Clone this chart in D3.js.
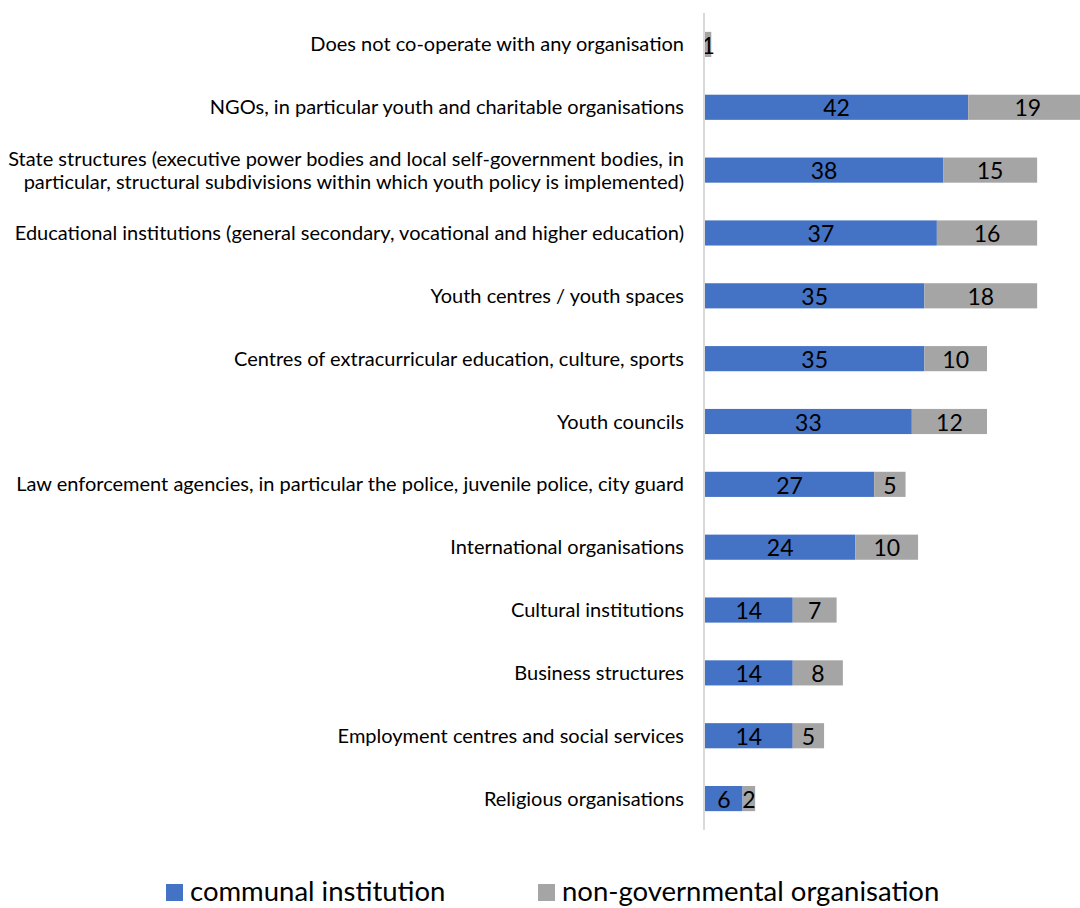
<!DOCTYPE html>
<html>
<head>
<meta charset="utf-8">
<script src="https://cdn.jsdelivr.net/npm/d3@7"></script>
<style>
  html, body { margin: 0; padding: 0; background: #fff; }
  svg { display: block; font-family: Lato, "Open Sans", sans-serif; }
</style>
</head>
<body>
<svg id="chart" width="1080" height="908"></svg>
<script>
// Partners of youth work, by type of organisation
const categories = [
  ["Does not co-operate with any organisation"],
  ["NGOs, in particular youth and charitable organisations"],
  ["State structures (executive power bodies and local self-government bodies, in",
   "particular, structural subdivisions within which youth policy is implemented)"],
  ["Educational institutions (general secondary, vocational and higher education)"],
  ["Youth centres / youth spaces"],
  ["Centres of extracurricular education, culture, sports"],
  ["Youth councils"],
  ["Law enforcement agencies, in particular the police, juvenile police, city guard"],
  ["International organisations"],
  ["Cultural institutions"],
  ["Business structures"],
  ["Employment centres and social services"],
  ["Religious organisations"]
];
const communal = [0, 42, 38, 37, 35, 35, 33, 27, 24, 14, 14, 14, 6];
const nonGov   = [1, 19, 15, 16, 18, 10, 12, 5, 10, 7, 8, 5, 2];
const seriesNames = ["communal institution", "non-governmental organisation"];
const colors = ["#4472C4", "#A5A5A5"];

const svg = d3.select("#chart");

const rows = categories.map((c, i) => ({ idx: i, lines: c, vals: [communal[i], nonGov[i]] }));

const y = d3.scaleBand()
  .domain(rows.map(r => r.idx))
  .range([13, 830])
  .paddingInner(0.6)
  .paddingOuter(0.3);

const x = d3.scaleLinear().domain([0, 60]).range([705, 1081]);

// stacked segments
const stack = d3.stack().keys([0, 1]).value((d, k) => d.vals[k]);
const layers = stack(rows);

layers.forEach((layer, k) => {
  const g = svg.append("g");
  g.selectAll("rect")
    .data(layer.filter(s => s[1] - s[0] > 0))
    .join("rect")
    .attr("x", s => x(s[0]))
    .attr("y", s => y(s.data.idx))
    .attr("width", s => x(s[1]) - x(s[0]))
    .attr("height", y.bandwidth())
    .attr("fill", colors[k]);

  g.selectAll("text")
    .data(layer.filter(s => s[1] - s[0] > 0))
    .join("text")
    .attr("x", s => (x(s[0]) + x(s[1])) / 2)
    .attr("y", s => y(s.data.idx) + y.bandwidth() / 2)
    .attr("dy", "0.4em")
    .attr("text-anchor", "middle")
    .attr("font-size", 23)
    .attr("fill", "#000")
    .text(s => s[1] - s[0]);
});

// vertical category axis line
svg.append("line")
  .attr("x1", 704).attr("x2", 704)
  .attr("y1", 13).attr("y2", 830)
  .attr("stroke", "#d9d9d9")
  .attr("stroke-width", 2);

// category labels
const lab = svg.append("g")
  .selectAll("text")
  .data(rows)
  .join("text")
  .attr("text-anchor", "end")
  .attr("font-size", 20)
  .attr("fill", "#000")
  .attr("y", r => y(r.idx) + y.bandwidth() / 2);

lab.each(function(r) {
  const t = d3.select(this);
  const n = r.lines.length;
  r.lines.forEach((line, j) => {
    t.append("tspan")
      .attr("x", 684)
      .attr("dy", j === 0 ? `${0.35 - (n - 1) * 0.575}em` : "1.15em")
      .text(line);
  });
});

// legend
const legendItems = [
  { name: seriesNames[0], color: colors[0], x: 166 },
  { name: seriesNames[1], color: colors[1], x: 538 }
];
const lg = svg.append("g").selectAll("g").data(legendItems).join("g")
  .attr("transform", d => `translate(${d.x},884)`);
lg.append("rect").attr("width", 17).attr("height", 17).attr("fill", d => d.color);
lg.append("text")
  .attr("x", 24).attr("y", 8.5).attr("dy", "0.3em")
  .attr("font-size", 27.5).attr("fill", "#000")
  .text(d => d.name);
</script>
</body>
</html>
